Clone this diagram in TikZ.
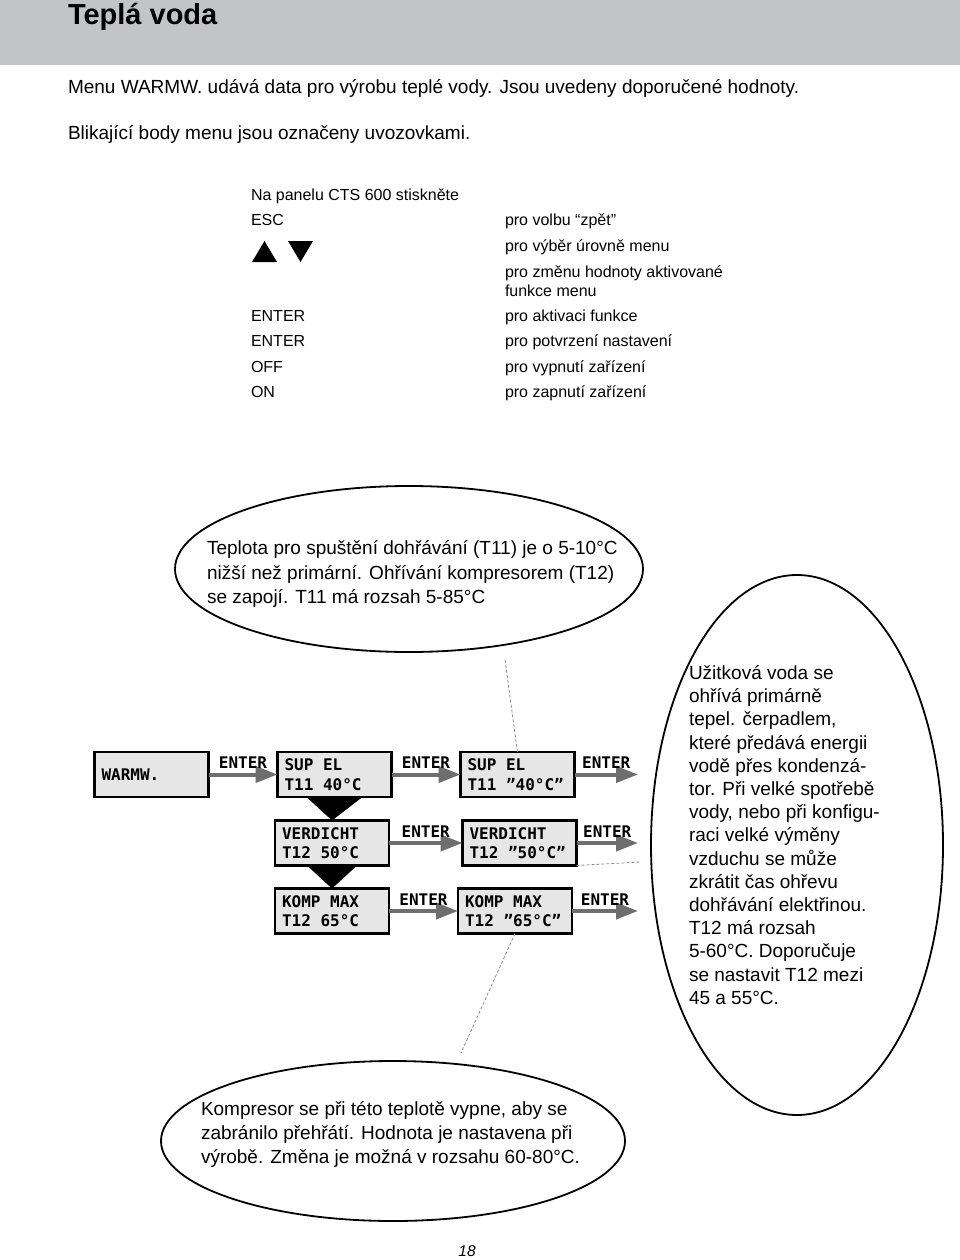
\documentclass[tikz,border=0pt]{standalone}
\usepackage{fontspec}
\setmainfont{Liberation Sans}
\newfontfamily\lcdfam{DejaVu Sans Mono}
\usetikzlibrary{shapes.geometric,arrows.meta,calc}
\definecolor{headgray}{HTML}{C3C4C8}
\definecolor{boxgray}{HTML}{E6E6E6}
\definecolor{arrowgray}{HTML}{6E6E6E}
\definecolor{dashgray}{HTML}{8A8A8A}
\newcommand{\lsp}{\hspace*{0.602em}}
\begin{document}
\begin{tikzpicture}[x=1pt,y=-1pt,
  every node/.style={inner sep=0pt, outer sep=0pt},
  bodytxt/.style={anchor=base west, font=\fontsize{19}{23}\selectfont},
  paneltxt/.style={anchor=base west, font=\fontsize{16}{19.5}\selectfont},
  bubble/.style={draw=black, ellipse, line width=1.8pt},
  lcdbox/.style={draw=black, line width=2.3pt, fill=boxgray, minimum height=45pt,
    text width=100pt, align=left, inner xsep=7pt, font=\lcdfam\bfseries\fontsize{16}{19.5}\selectfont},
  flowarrow/.style={draw=arrowgray, line width=4pt, -{Triangle[length=22pt,width=16pt]}},
  enterlbl/.style={font=\lcdfam\bfseries\fontsize{16}{19}\selectfont, above=6pt},
  guideline/.style={draw=dashgray, line width=0.8pt, dash pattern=on 3pt off 2pt},
  funnelfill/.style={fill=black},
  tri/.style={fill=black}
]
\useasboundingbox (0,0) rectangle (960,1260);
\fill[headgray] (0,0) rectangle (960,65);
\node[anchor=base west, font=\bfseries\fontsize{29}{33}\selectfont] (title) at (68,25) {Teplá voda};

\node[bodytxt] (intro1) at (68,94) {Menu WARMW. udává data pro výrobu teplé vody. Jsou uvedeny doporučené hodnoty.};
\node[bodytxt] (intro2) at (68,140) {Blikající body menu jsou označeny uvozovkami.};

% panel keys
\node[paneltxt] (p0) at (251,200.5) {Na panelu CTS 600 stiskněte};
\node[paneltxt] (k1) at (251,225.5) {ESC};
\fill[tri] (252,262) -- (277,262) -- (264.5,241) -- cycle;
\fill[tri] (288,241) -- (313,241) -- (300.5,262) -- cycle;
\node[paneltxt] (k4) at (251,321) {ENTER};
\node[paneltxt] (k5) at (251,346.5) {ENTER};
\node[paneltxt] (k6) at (251,372.5) {OFF};
\node[paneltxt] (k7) at (251,397.5) {ON};
\node[paneltxt] (d1) at (505,225.5) {pro volbu “zpět”};
\node[paneltxt] (d2) at (505,251) {pro výběr úrovně menu};
\node[paneltxt] (d3) at (505,277) {pro změnu hodnoty aktivované};
\node[paneltxt] (d3b) at (505,296) {funkce menu};
\node[paneltxt] (d4) at (505,321) {pro aktivaci funkce};
\node[paneltxt] (d5) at (505,346.5) {pro potvrzení nastavení};
\node[paneltxt] (d6) at (505,372.5) {pro vypnutí zařízení};
\node[paneltxt] (d7) at (505,397.5) {pro zapnutí zařízení};

% balloons
\node[bubble, minimum width=468pt, minimum height=166pt] (ell1) at (409,569) {};
\node[anchor=west, align=left, font=\fontsize{19}{24.5}\selectfont] (t1) at (207,574)
 {Teplota pro spuštění dohřávání (T11) je o 5-10°C\\nižší než primární. Ohřívání kompresorem (T12)\\se zapojí. T11 má rozsah 5-85°C};

\node[bubble, minimum width=292pt, minimum height=540pt] (ell2) at (797,845) {};
\node[anchor=west, align=left, font=\fontsize{19}{23.2}\selectfont] (t2) at (689,835)
 {Užitková voda se\\ohřívá primárně\\tepel. čerpadlem,\\které předává energii\\vodě přes kondenzá-\\tor. Při velké spotřebě\\vody, nebo při konfigu-\\raci velké výměny\\vzduchu se může\\zkrátit čas ohřevu\\dohřávání elektřinou.\\T12 má rozsah\\5-60°C. Doporučuje\\se nastavit T12 mezi\\45 a 55°C.};

\node[bubble, minimum width=464pt, minimum height=160pt] (ell3) at (393,1141) {};
\node[anchor=west, align=left, font=\fontsize{19}{24}\selectfont] (t3) at (201,1134)
 {Kompresor se při této teplotě vypne, aby se\\zabránilo přehřátí. Hodnota je nastavena při\\výrobě. Změna je možná v rozsahu 60-80°C.};

% menu boxes
\node[lcdbox] (warm) at (151.5,774.5) {WARMW.};
\node[lcdbox] (s1) at (334.5,774.5) {SUP\lsp EL\\T11\lsp 40°C};
\node[lcdbox] (v1) at (332,843) {VERDICHT\\T12\lsp 50°C};
\node[lcdbox] (km1) at (332,911) {KOMP\lsp MAX\\T12\lsp 65°C};
\node[lcdbox] (s2) at (517.5,774.5) {SUP\lsp EL\\T11\lsp ”40°C”};
\node[lcdbox] (v2) at (519.5,843) {VERDICHT\\T12\lsp ”50°C”};
\node[lcdbox] (km2) at (515,911) {KOMP\lsp MAX\\T12\lsp ”65°C”};

\fill[funnelfill] ($(s1.south)+(-28,0)$) -- ($(s1.south)+(28,0)$) -- (v1.north) -- cycle;
\fill[funnelfill] ($(v1.south)+(-25,0)$) -- ($(v1.south)+(25,0)$) -- (km1.north) -- cycle;

\coordinate (e1) at (638,774.5);
\coordinate (e2) at (638,843);
\coordinate (e3) at (638,911);

\draw[flowarrow] (warm) -- node[enterlbl] {ENTER} (s1);
\draw[flowarrow] (s1) -- node[enterlbl] {ENTER} (s2);
\draw[flowarrow] (s2) -- node[enterlbl] {ENTER} (e1);
\draw[flowarrow] (v1) -- node[enterlbl] {ENTER} (v2);
\draw[flowarrow] (v2) -- node[enterlbl] {ENTER} (e2);
\draw[flowarrow] (km1) -- node[enterlbl] {ENTER} (km2);
\draw[flowarrow] (km2) -- node[enterlbl] {ENTER} (e3);

% dashed guides
\coordinate (g1) at (505,660);
\coordinate (g2) at (640,862);
\coordinate (g3) at (461,1053);
\draw[guideline] (g1) -- (s2.north);
\draw[guideline] (v2.south east) -- (g2);
\draw[guideline] (km2.south) -- (g3);

\node[font=\itshape\fontsize{15.5}{18}\selectfont] (pg) at (467,1251.5) {18};
\end{tikzpicture}
\end{document}
